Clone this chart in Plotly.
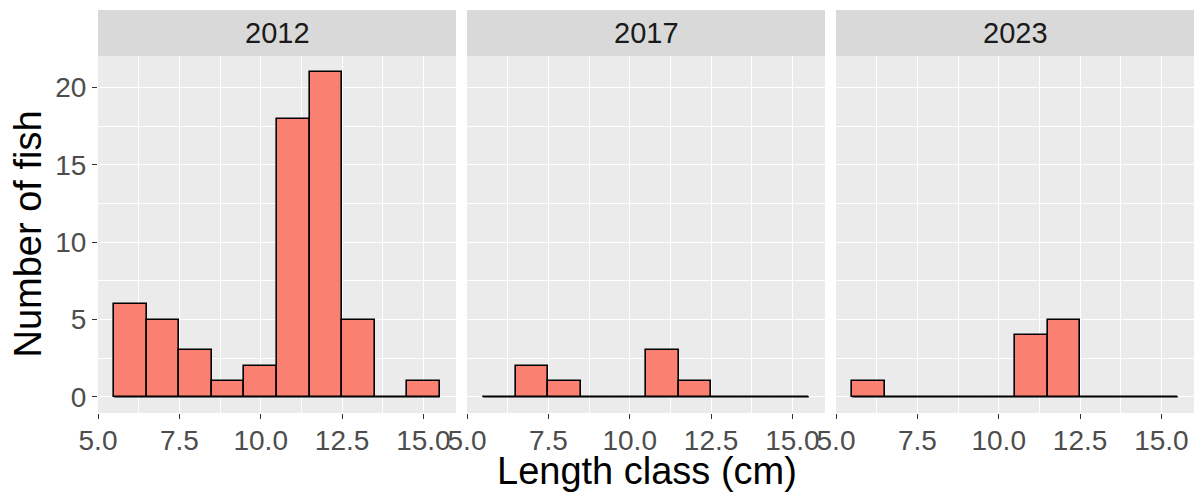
import plotly.graph_objects as go

# ---- data ----
years = ["2012", "2017", "2023"]
length_class = [6, 7, 8, 9, 10, 11, 12, 13, 14, 15]
counts_2012 = [6, 5, 3, 1, 2, 18, 21, 5, 0, 1]
counts_2017 = [0, 2, 1, 0, 0, 3, 1, 0, 0, 0]
counts_2023 = [1, 0, 0, 0, 0, 4, 5, 0, 0, 0]
x_ticks = [5.0, 7.5, 10.0, 12.5, 15.0]
y_ticks = [0, 5, 10, 15, 20]
bin_width = 1.0

counts = [counts_2012, counts_2017, counts_2023]

# ---- geometry ----
W, H = 1200, 495
ML, MR, MT, MB = 98, 4, 56, 82
PW = W - ML - MR
PH = H - MT - MB
panel_w = 358
gap = 11
domains = []
for i in range(3):
    x0 = i * (panel_w + gap) / PW
    x1 = (i * (panel_w + gap) + panel_w) / PW
    domains.append([x0, min(x1, 1.0)])

lo = min(length_class) - bin_width / 2
hi = max(length_class) + bin_width / 2
xpad = 0.05 * (hi - lo)
xrange_ = [lo - xpad, hi + xpad]
ymax = max(max(c) for c in counts)
yrange_ = [-0.05 * ymax, ymax * 1.05]

FONT = "Liberation Sans, Arial, sans-serif"
FILL = "#FA8072"

fig = go.Figure()
for i, (yr, c) in enumerate(zip(years, counts)):
    xa = "x" if i == 0 else f"x{i+1}"
    ya = "y" if i == 0 else f"y{i+1}"
    fig.add_trace(go.Scatter(
        x=[lo, hi], y=[0, 0], mode="lines",
        line=dict(color="black", width=1.6),
        xaxis=xa, yaxis=ya, showlegend=False, hoverinfo="skip"))
    fig.add_trace(go.Bar(
        x=length_class, y=c, width=bin_width,
        marker=dict(color=FILL, line=dict(color="black", width=1.6)),
        xaxis=xa, yaxis=ya, showlegend=False, name=yr))

axis_common = dict(
    showgrid=True, gridcolor="white", gridwidth=1.1,
    zeroline=False, showline=False,
    ticks="outside", ticklen=5, tickwidth=1.1, tickcolor="#333333",
    tickfont=dict(family=FONT, size=28, color="#4D4D4D"),
)

layout = dict(
    width=W, height=H,
    margin=dict(l=ML, r=MR, t=MT, b=MB),
    paper_bgcolor="white", plot_bgcolor="#EBEBEB",
    bargap=0, barmode="overlay",
    font=dict(family=FONT),
)

for i in range(3):
    xk = "xaxis" if i == 0 else f"xaxis{i+1}"
    yk = "yaxis" if i == 0 else f"yaxis{i+1}"
    layout[xk] = dict(
        axis_common, domain=domains[i], range=xrange_,
        tickmode="array", tickvals=x_ticks,
        ticktext=[f"{v:.1f}" for v in x_ticks],
        ticklabelstandoff=-3,
        minor=dict(dtick=1.25, tick0=5, showgrid=True, gridcolor="white", gridwidth=0.55, ticks=""),
        anchor="y" if i == 0 else f"y{i+1}",
    )
    yd = dict(
        axis_common, domain=[0, 1], range=yrange_,
        tickmode="array", tickvals=y_ticks,
        ticklabelstandoff=0,
        minor=dict(dtick=2.5, tick0=0, showgrid=True, gridcolor="white", gridwidth=0.55, ticks=""),
        anchor="x" if i == 0 else f"x{i+1}",
    )
    if i > 0:
        yd.update(showticklabels=False, ticks="", matches="y")
    layout[yk] = yd

fig.update_layout(**layout)

strip_h = 46 / PH
shapes = []
annotations = []
for i, yr in enumerate(years):
    shapes.append(dict(type="rect", xref="paper", yref="paper",
                       x0=domains[i][0], x1=domains[i][1], y0=1, y1=1 + strip_h,
                       fillcolor="#D9D9D9", line=dict(width=0), layer="below"))
    annotations.append(dict(text=yr, xref="paper", yref="paper",
                            x=(domains[i][0] + domains[i][1]) / 2, y=1 + strip_h / 2,
                            xanchor="center", yanchor="middle", showarrow=False,
                            font=dict(family=FONT, size=29, color="#1A1A1A")))

annotations.append(dict(text="Length class (cm)", xref="paper", yref="paper",
                        x=0.5, y=-(471 - (H - MB)) / PH, xanchor="center", yanchor="middle",
                        showarrow=False, font=dict(family=FONT, size=38, color="black")))
annotations.append(dict(text="Number of fish", xref="paper", yref="paper",
                        x=(27 - ML) / PW, y=0.5, xanchor="center", yanchor="middle",
                        textangle=-90, showarrow=False,
                        font=dict(family=FONT, size=38, color="black")))

fig.update_layout(shapes=shapes, annotations=annotations)
fig.write_html("out.html", config={"displayModeBar": False},
               post_script="document.body.style.margin='0';")
